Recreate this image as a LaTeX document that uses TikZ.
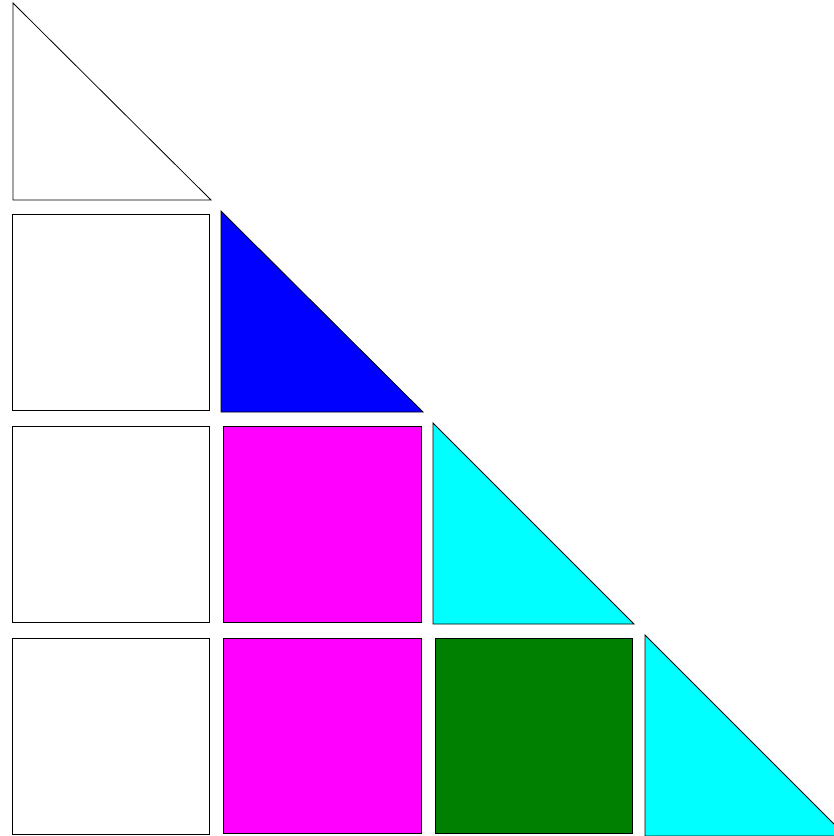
\documentclass[tikz,border=0pt]{standalone}
\definecolor{dgreen}{RGB}{0,128,0}
\definecolor{pmagenta}{RGB}{255,0,255}
\definecolor{pcyan}{RGB}{0,255,255}
\definecolor{pblue}{RGB}{0,0,255}
\tikzset{cell/.style={draw=black,line width=0.8pt,line join=miter}}
\begin{document}
\begin{tikzpicture}[x=1pt,y=-1pt]
\useasboundingbox (0,0) rectangle (834,836);
\clip (0,0) rectangle (834,836);
% row 1
\filldraw[cell,fill=white] (13,3) -- (13,200) -- (211,200) -- cycle;
% row 2
\filldraw[cell,fill=white] (12,214) rectangle (209,410);
\filldraw[cell,fill=pblue] (221,211) -- (221,412) -- (423,412) -- cycle;
% row 3
\filldraw[cell,fill=white] (12,426) rectangle (209,622);
\filldraw[cell,fill=pmagenta] (223,426) rectangle (421,622);
\filldraw[cell,fill=pcyan] (433,423) -- (433,624) -- (634,624) -- cycle;
% row 4
\filldraw[cell,fill=white] (12,638) rectangle (209,834);
\filldraw[cell,fill=pmagenta] (223,638) rectangle (421,833);
\filldraw[cell,fill=dgreen] (435,638) rectangle (632,833);
\filldraw[cell,fill=pcyan] (645,635) -- (645,836) -- (846,836) -- cycle;
\end{tikzpicture}
\end{document}
